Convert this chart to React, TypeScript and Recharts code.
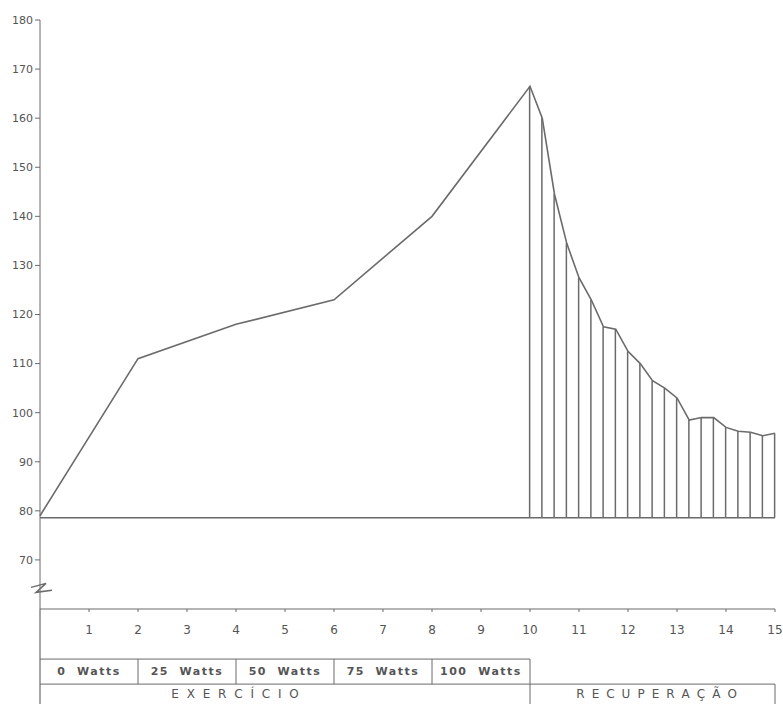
import {
  ComposedChart,
  Line,
  Bar,
  XAxis,
  YAxis,
  ReferenceLine,
  ReferenceDot,
} from "recharts";

// heart rate (bpm) during the exercise stages and the recovery
const exerciseMinutes = [0, 2, 4, 6, 8];
const exerciseRate = [79, 111, 118, 123, 140];

const recoveryMinutes = [
  10, 10.25, 10.5, 10.75, 11, 11.25, 11.5, 11.75, 12, 12.25, 12.5, 12.75, 13,
  13.25, 13.5, 13.75, 14, 14.25, 14.5, 14.75, 15,
];
const recoveryRate = [
  166.5, 160, 144.5, 134.5, 127.5, 123, 117.5, 117, 112.5, 110, 106.5, 105,
  103, 98.5, 99, 99, 97, 96.2, 96, 95.3, 95.8,
];

const restingRate = 78.6;

const xTicks = [1, 2, 3, 4, 5, 6, 7, 8, 9, 10, 11, 12, 13, 14, 15];
const yTicks = [70, 80, 90, 100, 110, 120, 130, 140, 150, 160, 170, 180];

const workloads = ["0  Watts", "25  Watts", "50  Watts", "75  Watts", "100  Watts"];
const stageBounds = [0, 2, 4, 6, 8, 10];
const exerciseLabel = "E X E R C Í C I O";
const recoveryLabel = "R E C U P E R A Ç Ã O";

const data = [
  ...exerciseMinutes.map((m, i) => ({ min: m, hr: exerciseRate[i] })),
  ...recoveryMinutes.map((m, i) => ({
    min: m,
    hr: recoveryRate[i],
    range: [restingRate, recoveryRate[i]],
  })),
];

const ink = "#6b6b6b";
const font = "DejaVu Sans, sans-serif";

// table rows below the axis, in y units (below the domain)
const rowTop = 49.8;
const rowMid = 44.7;
const rowBottom = 38;

function label(text: string, size = 11, spacing = 1.5, weight = 400) {
  return (p: any) => (
    <text
      x={p.cx}
      y={p.cy}
      textAnchor="middle"
      dominantBaseline="central"
      fill="#555"
      fontSize={size}
      fontWeight={weight}
      fontFamily={font}
      letterSpacing={spacing}
      style={{ whiteSpace: "pre" }}
    >
      {text}
    </text>
  );
}

function breakMark(p: any) {
  const { cx, cy } = p;
  return (
    <path
      d={`M${cx - 9},${cy - 2} L${cx + 6},${cy - 6} L${cx - 4},${cy + 3} L${cx + 12},${cy + 1}`}
      fill="none"
      stroke={ink}
      strokeWidth={1.5}
    />
  );
}

export default function App() {
  return (
    <div style={{ width: 783, height: 704, background: "#fff" }}>
      <style>{`body{margin:0}`}</style>
      <ComposedChart
        width={783}
        height={704}
        data={data}
        margin={{ top: 20, right: 8, left: 0, bottom: 65 }}
      >
        <XAxis
          dataKey="min"
          type="number"
          domain={[0, 15]}
          ticks={xTicks}
          height={30}
          tickSize={3}
          tickMargin={13}
          stroke={ink}
          tick={{ fill: "#555", fontSize: 12, fontFamily: font }}
        />
        <YAxis
          type="number"
          domain={[60, 180]}
          ticks={yTicks}
          width={40}
          tickSize={5}
          tickMargin={2}
          stroke={ink}
          tick={{ fill: "#555", fontSize: 11, fontFamily: font }}
        />

        {/* resting baseline */}
        <ReferenceLine
          segment={[
            { x: 0, y: restingRate },
            { x: 15, y: restingRate },
          ]}
          stroke={ink}
          strokeWidth={1.4}
        />

        <Bar
          dataKey="range"
          barSize={1.5}
          fill={ink}
          isAnimationActive={false}
        />
        <Line
          dataKey="hr"
          type="linear"
          stroke={ink}
          strokeWidth={1.6}
          dot={false}
          isAnimationActive={false}
        />

        <ReferenceDot x={0} y={64} r={0} ifOverflow="visible" shape={breakMark} />

        {/* axis continues through the table */}
        <ReferenceLine
          segment={[
            { x: 0, y: 60 },
            { x: 0, y: rowBottom },
          ]}
          stroke={ink}
          strokeWidth={1.2}
          ifOverflow="visible"
        />
        <ReferenceLine
          segment={[
            { x: 0, y: rowTop },
            { x: 10, y: rowTop },
          ]}
          stroke={ink}
          ifOverflow="visible"
        />
        <ReferenceLine
          segment={[
            { x: 0, y: rowMid },
            { x: 15, y: rowMid },
          ]}
          stroke={ink}
          ifOverflow="visible"
        />
        {stageBounds.slice(1).map((b) => (
          <ReferenceLine
            key={b}
            segment={[
              { x: b, y: rowTop },
              { x: b, y: b === 10 ? rowBottom : rowMid },
            ]}
            stroke={ink}
            ifOverflow="visible"
          />
        ))}
        <ReferenceLine
          segment={[
            { x: 15, y: rowMid },
            { x: 15, y: rowBottom },
          ]}
          stroke={ink}
          ifOverflow="visible"
        />

        {workloads.map((w, i) => (
          <ReferenceDot
            key={w}
            x={(stageBounds[i] + stageBounds[i + 1]) / 2}
            y={(rowTop + rowMid) / 2}
            r={0}
            ifOverflow="visible"
            shape={label(w, 11, 1.5, 700)}
          />
        ))}
        <ReferenceDot
          x={4}
          y={rowMid - 2}
          r={0}
          ifOverflow="visible"
          shape={label(exerciseLabel, 12, 2)}
        />
        <ReferenceDot
          x={12.6}
          y={rowMid - 2}
          r={0}
          ifOverflow="visible"
          shape={label(recoveryLabel, 12, 1.6)}
        />
      </ComposedChart>
    </div>
  );
}
